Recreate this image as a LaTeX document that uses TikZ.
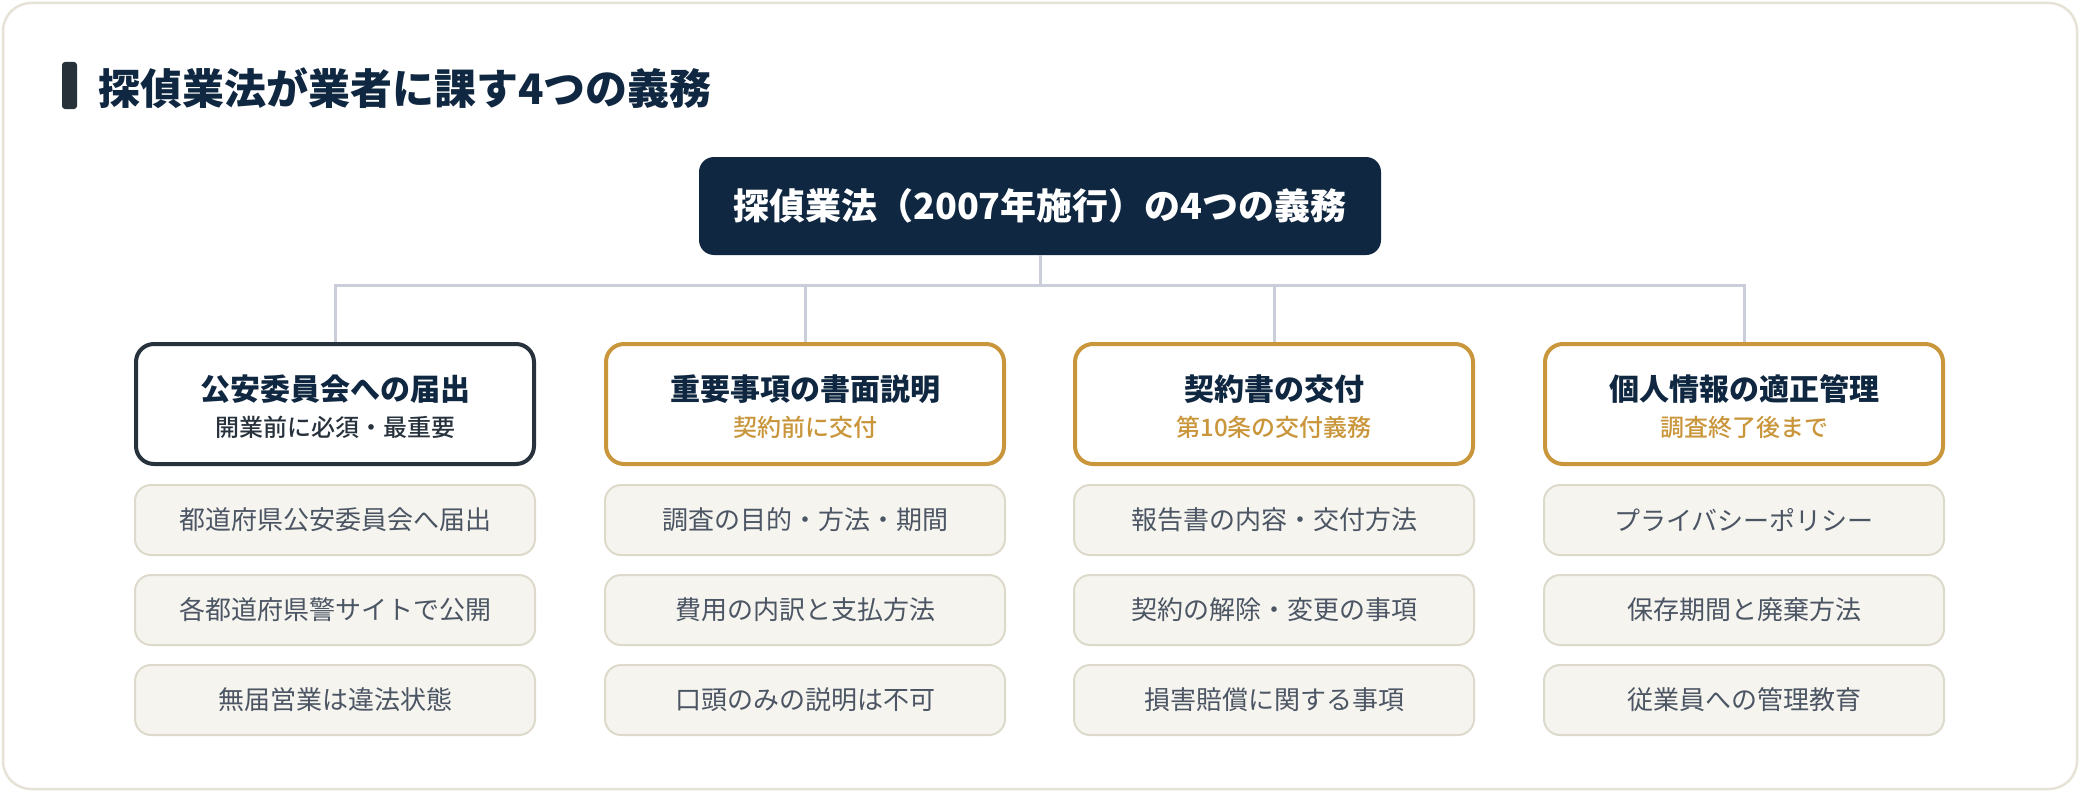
\documentclass[tikz,border=0pt]{standalone}
\usepackage{fontspec}
\setmainfont{Noto Sans CJK JP}
\newfontfamily\medfont{Noto Sans CJK JP Medium}
\usetikzlibrary{positioning}
\definecolor{navy}{HTML}{0F2740}
\definecolor{barcol}{HTML}{26313A}
\definecolor{gold}{HTML}{C9963B}
\definecolor{darkedge}{HTML}{28323D}
\definecolor{framecol}{HTML}{E6E3D6}
\definecolor{linkcol}{HTML}{C9CED8}
\definecolor{itemfill}{HTML}{F6F4EF}
\definecolor{itemedge}{HTML}{DEDACB}
\definecolor{itemtext}{HTML}{4B5563}
\tikzset{
  frame/.style={draw=framecol, line width=2.5pt, fill=white, rounded corners=28pt},
  bar/.style={fill=barcol, rounded corners=3pt, minimum width=15pt, minimum height=47pt, inner sep=0pt},
  pagetitle/.style={text=navy, font=\fontsize{42}{48}\selectfont\bfseries, inner sep=0pt},
  rootbox/.style={fill=navy, text=white, rounded corners=15pt, minimum width=682pt,
    minimum height=98pt, font=\fontsize{36}{42}\selectfont\bfseries},
  catbox/.style={draw=#1, fill=white, line width=4pt, rounded corners=18pt,
    minimum width=398pt, minimum height=120pt},
  cathead/.style={text=navy, font=\fontsize{30}{34}\selectfont\bfseries, inner sep=0pt},
  catsub/.style={text=#1, font=\fontsize{24}{28}\medfont, inner sep=0pt},
  itembox/.style={draw=itemedge, fill=itemfill, line width=2pt, rounded corners=16pt,
    minimum width=400pt, minimum height=70pt, text=itemtext, font=\fontsize{26}{30}\selectfont},
  link/.style={draw=linkcol, line width=3pt}
}
\begin{document}
\begin{tikzpicture}[x=1pt, y=-1pt]
    \useasboundingbox (0,0) rectangle (2080,792);
    \draw[frame] (3,3) rectangle (2077,789);
    \node[bar] (bar) at (69.5,85.5) {};
    \node[pagetitle, anchor=west] (title) at (98,88) {探偵業法が業者に課す4つの義務};
    \node[rootbox] (root) at (1040,206) {探偵業法（2007年施行）の4つの義務};
    \coordinate (bus) at (0,285);
    \foreach \i/\x/\col/\head/\sub/\a/\b/\c in {
        1/335/darkedge/公安委員会への届出/開業前に必須・最重要/都道府県公安委員会へ届出/各都道府県警サイトで公開/無届営業は違法状態,
        2/805/gold/重要事項の書面説明/契約前に交付/調査の目的・方法・期間/費用の内訳と支払方法/口頭のみの説明は不可,
        3/1274/gold/契約書の交付/第10条の交付義務/報告書の内容・交付方法/契約の解除・変更の事項/損害賠償に関する事項,
        4/1744/gold/個人情報の適正管理/調査終了後まで/プライバシーポリシー/保存期間と廃棄方法/従業員への管理教育}{
        \draw[link] (root.south) -- (root.south |- bus) -| (\x,342);
        \node[catbox=\col] (cat\i) at (\x,404) {};
        \node[cathead] (cat\i-head) at ([yshift=15pt]cat\i.center) {\head};
        \node[catsub=\col] (cat\i-sub) at ([yshift=-23pt]cat\i.center) {\sub};
        \node[itembox] (item\i-1) at (\x,520) {\a};
        \node[itembox] (item\i-2) at (\x,610) {\b};
        \node[itembox] (item\i-3) at (\x,700) {\c};
    }
\end{tikzpicture}
\end{document}
